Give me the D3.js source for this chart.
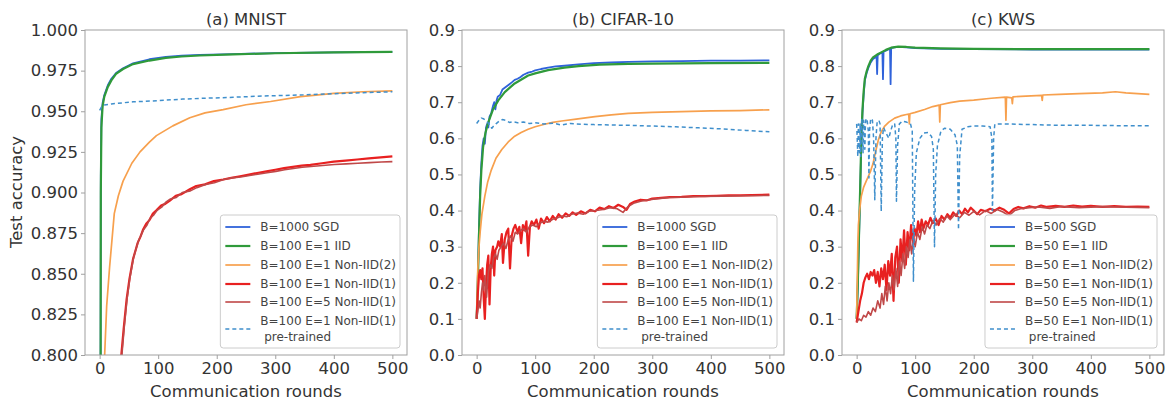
<!DOCTYPE html>
<html>
<head>
<meta charset="utf-8">
<script src="https://cdn.jsdelivr.net/npm/d3@7"></script>
<style>
  body { margin: 0; background: #fff; }
  text { font-family: "DejaVu Sans", sans-serif; }
</style>
</head>
<body>
<svg id="chart" width="1173" height="406"></svg>
<script>
// ---- data: [round, test accuracy] ----
const roundTicks = [0, 100, 200, 300, 400, 500]
const mnistTicks = [0.800, 0.825, 0.850, 0.875, 0.900, 0.925, 0.950, 0.975, 1.000]
const accTicks = [0.0, 0.1, 0.2, 0.3, 0.4, 0.5, 0.6, 0.7, 0.8, 0.9]

const titles = ["(a) MNIST", "(b) CIFAR-10", "(c) KWS"]
const mnistLabels = ["B=1000 SGD", "B=100 E=1 IID", "B=100 E=1 Non-IID(2)", "B=100 E=1 Non-IID(1)", "B=100 E=5 Non-IID(1)", "B=100 E=1 Non-IID(1)| pre-trained"]
const cifarLabels = mnistLabels
const kwsLabels = ["B=500 SGD", "B=50 E=1 IID", "B=50 E=1 Non-IID(2)", "B=50 E=1 Non-IID(1)", "B=50 E=5 Non-IID(1)", "B=50 E=1 Non-IID(1)| pre-trained"]

// (a) MNIST
const mnistSGD = [[0,0.10],[1,0.60],[2,0.91],[3,0.945],[5,0.955],[8,0.960],[14,0.966],[20,0.970],[28,0.9735],[40,0.9765],[57,0.9795],[85,0.982],[113,0.9835],[140,0.9842],[171,0.9847],[228,0.9852],[300,0.9858],[400,0.9862],[500,0.9866]]
const mnistIID = [[0,0.10],[1,0.55],[2,0.90],[3,0.940],[5,0.953],[8,0.959],[14,0.965],[20,0.969],[28,0.973],[40,0.976],[57,0.979],[85,0.9812],[113,0.9828],[140,0.9837],[171,0.9843],[228,0.985],[300,0.9857],[400,0.9862],[500,0.9865]]
const mnistNon2 = [[0,0.10],[5,0.60],[8,0.795],[12,0.83],[17,0.854],[25,0.887],[32,0.898],[40,0.907],[55,0.918],[69,0.925],[85,0.931],[97,0.935],[125,0.941],[154,0.946],[180,0.949],[211,0.951],[250,0.954],[292,0.956],[343,0.959],[400,0.961],[450,0.962],[500,0.9625]]
const mnistE1 = [[0,0.10],[20,0.45],[30,0.66],[37,0.80],[41,0.816],[46,0.834],[51,0.847],[57,0.859],[61,0.864],[65,0.869],[70,0.873],[74,0.877],[80,0.881],[85,0.883],[91,0.887],[97,0.889],[105,0.892],[112,0.893],[120,0.895],[130,0.898],[140,0.899],[154,0.902],[165,0.904],[180,0.905],[195,0.907],[211,0.908],[225,0.909],[240,0.910],[255,0.911],[269,0.912],[285,0.913],[300,0.914],[315,0.915],[330,0.9158],[345,0.9165],[360,0.917],[380,0.918],[400,0.919],[420,0.9196],[440,0.9203],[460,0.921],[480,0.9216],[500,0.9222]]
const mnistE5 = [[0,0.10],[20,0.44],[30,0.65],[38,0.80],[42,0.817],[47,0.835],[52,0.848],[58,0.860],[62,0.865],[66,0.870],[71,0.874],[75,0.877],[81,0.880],[86,0.884],[92,0.886],[98,0.889],[106,0.891],[113,0.894],[121,0.896],[131,0.897],[141,0.900],[155,0.901],[166,0.903],[181,0.905],[196,0.906],[212,0.908],[226,0.909],[241,0.9095],[256,0.9105],[270,0.9112],[286,0.9122],[301,0.913],[316,0.914],[331,0.9148],[346,0.9155],[361,0.916],[381,0.9166],[401,0.9172],[421,0.9176],[441,0.918],[461,0.9184],[481,0.9188],[500,0.919]]
const mnistPre = [[0,0.9505],[3,0.9525],[8,0.9538],[20,0.9545],[40,0.9552],[57,0.9558],[100,0.9565],[142,0.9575],[180,0.958],[228,0.9586],[280,0.9594],[343,0.960],[400,0.9608],[450,0.9614],[500,0.962]]

// (b) CIFAR-10
const cifarSGD = [[0,0.10],[2,0.21],[3,0.28],[4,0.35],[6,0.46],[8,0.53],[10,0.58],[12,0.60],[14,0.585],[16,0.63],[18,0.64],[20,0.63],[22,0.66],[25,0.67],[28,0.69],[30,0.70],[32,0.68],[34,0.705],[36,0.715],[40,0.72],[44,0.735],[48,0.74],[52,0.745],[56,0.75],[60,0.755],[65,0.762],[70,0.765],[75,0.77],[80,0.776],[88,0.782],[95,0.785],[100,0.788],[110,0.792],[122,0.796],[135,0.799],[150,0.801],[174,0.805],[200,0.808],[230,0.81],[259,0.812],[300,0.813],[350,0.814],[400,0.815],[450,0.815],[500,0.816]]
const cifarIID = [[0,0.10],[2,0.20],[3,0.26],[4,0.33],[6,0.44],[8,0.51],[11,0.575],[15,0.615],[20,0.645],[28,0.68],[37,0.705],[48,0.728],[65,0.752],[88,0.774],[100,0.78],[122,0.789],[150,0.796],[174,0.80],[210,0.804],[259,0.806],[300,0.807],[400,0.808],[500,0.809]]
const cifarNon2 = [[0,0.10],[2,0.24],[4,0.30],[6,0.34],[9,0.39],[14,0.44],[19,0.48],[25,0.512],[33,0.545],[43,0.569],[54,0.59],[65,0.606],[76,0.616],[88,0.625],[100,0.632],[116,0.639],[130,0.644],[145,0.648],[170,0.653],[202,0.66],[230,0.665],[259,0.669],[300,0.672],[350,0.674],[400,0.676],[450,0.677],[500,0.679]]
const cifarE1 = [[0,0.10],[2,0.17],[4,0.22],[6,0.235],[8,0.21],[10,0.24],[12,0.16],[14,0.10],[16,0.19],[18,0.25],[20,0.275],[22,0.14],[24,0.24],[26,0.28],[28,0.30],[30,0.22],[32,0.29],[35,0.30],[37,0.315],[40,0.30],[43,0.335],[45,0.255],[48,0.32],[51,0.34],[54,0.35],[57,0.24],[60,0.33],[63,0.35],[66,0.36],[70,0.34],[73,0.355],[76,0.31],[79,0.36],[82,0.345],[85,0.37],[88,0.275],[91,0.355],[94,0.37],[98,0.36],[102,0.375],[106,0.35],[110,0.378],[115,0.365],[120,0.382],[125,0.37],[130,0.385],[135,0.375],[140,0.39],[146,0.38],[152,0.392],[158,0.385],[164,0.395],[170,0.388],[178,0.398],[186,0.392],[194,0.402],[202,0.398],[210,0.408],[218,0.404],[226,0.412],[234,0.407],[242,0.416],[250,0.41],[256,0.402],[262,0.418],[270,0.425],[280,0.43],[290,0.428],[300,0.433],[315,0.435],[330,0.437],[350,0.438],[370,0.44],[390,0.44],[410,0.441],[430,0.442],[450,0.442],[470,0.443],[500,0.444]]
const cifarE5 = [[0,0.10],[2,0.12],[4,0.15],[6,0.13],[8,0.17],[10,0.20],[12,0.18],[14,0.22],[17,0.16],[20,0.23],[23,0.25],[26,0.24],[29,0.27],[32,0.28],[35,0.265],[38,0.29],[42,0.30],[46,0.31],[50,0.295],[54,0.32],[58,0.33],[62,0.315],[66,0.34],[70,0.335],[75,0.345],[80,0.35],[85,0.34],[90,0.355],[96,0.36],[102,0.355],[108,0.365],[115,0.37],[122,0.368],[130,0.376],[138,0.38],[146,0.385],[154,0.383],[162,0.39],[172,0.393],[182,0.39],[192,0.398],[204,0.40],[216,0.403],[228,0.408],[240,0.405],[250,0.395],[258,0.41],[268,0.42],[280,0.426],[295,0.43],[310,0.433],[330,0.436],[350,0.437],[380,0.439],[420,0.44],[460,0.441],[500,0.442]]
const cifarPre = [[0,0.641],[4,0.650],[8,0.656],[12,0.654],[16,0.648],[20,0.642],[23,0.633],[26,0.628],[29,0.634],[33,0.640],[38,0.647],[44,0.652],[50,0.650],[56,0.644],[62,0.646],[70,0.643],[80,0.645],[90,0.641],[100,0.643],[115,0.640],[130,0.642],[145,0.637],[160,0.641],[180,0.639],[200,0.638],[230,0.637],[260,0.636],[300,0.634],[340,0.632],[380,0.629],[420,0.626],[460,0.622],[500,0.618]]

// (c) KWS
const kwsSGD = [[0,0.10],[2,0.19],[4,0.32],[6,0.45],[8,0.58],[10,0.67],[12,0.72],[14,0.76],[17,0.78],[20,0.795],[24,0.81],[28,0.82],[32,0.824],[34,0.828],[35,0.778],[36,0.83],[40,0.835],[44,0.838],[45,0.764],[46,0.84],[50,0.843],[54,0.846],[57,0.848],[58,0.75],[59,0.85],[65,0.852],[71,0.853],[85,0.852],[100,0.85],[144,0.848],[200,0.847],[300,0.846],[400,0.846],[500,0.846]]
const kwsIID = [[0,0.10],[2,0.20],[4,0.33],[6,0.46],[8,0.60],[10,0.68],[12,0.73],[14,0.765],[17,0.785],[20,0.80],[24,0.815],[28,0.824],[35,0.832],[42,0.838],[50,0.845],[59,0.851],[71,0.854],[85,0.853],[100,0.851],[144,0.849],[200,0.848],[300,0.847],[400,0.847],[500,0.847]]
const kwsNon2 = [[0,0.10],[2,0.30],[3,0.36],[5,0.40],[8,0.44],[12,0.465],[16,0.48],[20,0.495],[24,0.51],[28,0.53],[32,0.56],[37,0.595],[42,0.618],[48,0.634],[55,0.645],[65,0.656],[75,0.662],[85,0.666],[89,0.667],[90,0.64],[91,0.668],[100,0.672],[116,0.68],[130,0.688],[141,0.692],[142,0.645],[143,0.693],[160,0.699],[176,0.703],[200,0.706],[230,0.711],[254,0.714],[255,0.65],[256,0.714],[265,0.712],[266,0.696],[267,0.715],[289,0.717],[316,0.719],[317,0.705],[318,0.72],[346,0.722],[380,0.724],[420,0.726],[442,0.729],[460,0.726],[500,0.722]]
const kwsE1 = [[0,0.09],[3,0.12],[6,0.15],[9,0.17],[12,0.20],[15,0.215],[18,0.225],[21,0.21],[24,0.23],[27,0.22],[30,0.235],[33,0.20],[36,0.23],[39,0.19],[42,0.24],[45,0.21],[48,0.25],[51,0.18],[54,0.26],[57,0.22],[60,0.28],[63,0.15],[66,0.27],[69,0.30],[72,0.20],[75,0.32],[78,0.26],[81,0.345],[84,0.25],[87,0.34],[90,0.29],[93,0.36],[96,0.31],[99,0.35],[102,0.33],[105,0.37],[108,0.34],[111,0.375],[114,0.35],[118,0.37],[122,0.36],[126,0.38],[130,0.365],[135,0.378],[140,0.36],[145,0.385],[150,0.375],[155,0.39],[160,0.38],[165,0.395],[170,0.385],[175,0.40],[180,0.39],[185,0.405],[190,0.395],[195,0.408],[200,0.40],[206,0.39],[212,0.402],[220,0.398],[228,0.405],[236,0.40],[244,0.408],[252,0.402],[260,0.392],[268,0.404],[276,0.41],[285,0.406],[295,0.412],[305,0.408],[315,0.414],[325,0.41],[340,0.413],[355,0.41],[370,0.414],[385,0.411],[400,0.413],[420,0.41],[440,0.412],[460,0.41],[480,0.411],[500,0.41]]
const kwsE5 = [[0,0.09],[4,0.10],[8,0.095],[12,0.11],[16,0.105],[20,0.12],[24,0.11],[28,0.13],[32,0.12],[36,0.15],[40,0.13],[43,0.17],[46,0.14],[49,0.19],[52,0.15],[55,0.20],[58,0.17],[61,0.22],[64,0.18],[67,0.24],[70,0.19],[73,0.26],[76,0.22],[79,0.28],[82,0.24],[85,0.30],[88,0.27],[91,0.32],[94,0.28],[97,0.33],[100,0.30],[104,0.34],[108,0.32],[112,0.355],[116,0.335],[120,0.36],[125,0.35],[130,0.372],[136,0.36],[142,0.378],[148,0.368],[154,0.385],[160,0.375],[168,0.39],[176,0.38],[184,0.395],[192,0.387],[200,0.398],[210,0.388],[220,0.40],[230,0.392],[240,0.403],[250,0.396],[260,0.386],[270,0.40],[280,0.405],[295,0.408],[310,0.41],[330,0.406],[350,0.411],[380,0.408],[420,0.411],[460,0.409],[500,0.408]]
const kwsPre = [[0,0.64],[1,0.60],[2,0.55],[3,0.64],[4,0.58],[5,0.56],[6,0.64],[7,0.55],[8,0.62],[9,0.655],[10,0.60],[11,0.56],[12,0.65],[13,0.62],[14,0.57],[15,0.64],[16,0.655],[18,0.65],[20,0.62],[21,0.49],[22,0.62],[24,0.655],[27,0.65],[29,0.60],[31,0.43],[33,0.60],[35,0.645],[38,0.65],[40,0.64],[42,0.398],[44,0.60],[46,0.63],[50,0.615],[55,0.60],[58,0.62],[62,0.64],[65,0.64],[67,0.60],[68,0.426],[70,0.58],[73,0.64],[78,0.648],[85,0.645],[92,0.64],[95,0.62],[97,0.204],[99,0.45],[102,0.56],[108,0.60],[115,0.615],[122,0.616],[128,0.605],[131,0.57],[133,0.30],[135,0.50],[138,0.58],[144,0.62],[150,0.628],[160,0.625],[168,0.61],[172,0.58],[174,0.347],[176,0.55],[180,0.625],[190,0.632],[200,0.634],[215,0.634],[228,0.632],[231,0.60],[232,0.40],[234,0.60],[236,0.639],[250,0.64],[300,0.638],[350,0.636],[400,0.636],[450,0.635],[500,0.635]]

// ---- styles ----
const seriesColors = ["#2f62da", "#2f9a3a", "#f7a04d", "#e82020", "#c04848", "#3f8fcc"]
const seriesWidths = [1.8, 2.2, 1.7, 2.2, 1.6, 1.5]

const svg = d3.select("#chart")
const dims = { width: 322, top: 30, bottom: 355 }

function drawPanel(cfg) {
  const x = d3.scaleLinear().domain([-25, 525]).range([cfg.left, cfg.left + dims.width])
  const y = d3.scaleLinear().domain(cfg.yDomain).range([dims.bottom, dims.top])

  const g = svg.append("g")
  const clipId = "clip" + cfg.idx
  g.append("clipPath").attr("id", clipId)
    .append("rect")
      .attr("x", cfg.left).attr("y", dims.top)
      .attr("width", dims.width).attr("height", dims.bottom - dims.top)

  const line = d3.line().x(d => x(d[0])).y(d => y(d[1]))

  const lines = g.append("g").attr("clip-path", `url(#${clipId})`)
  cfg.series.forEach((s, i) => {
    lines.append("path")
      .attr("d", line(s))
      .attr("fill", "none")
      .attr("stroke", seriesColors[i])
      .attr("stroke-width", seriesWidths[i])
      .attr("stroke-linejoin", "round")
      .attr("stroke-dasharray", i == 5 ? "4,3" : null)
  })

  // frame
  g.append("rect")
    .attr("x", cfg.left).attr("y", dims.top)
    .attr("width", dims.width).attr("height", dims.bottom - dims.top)
    .attr("fill", "none").attr("stroke", "#a0a0a0").attr("stroke-width", 1)

  const xAxis = g.append("g")
    .attr("transform", `translate(0,${dims.bottom})`)
    .call(d3.axisBottom(x).tickValues(roundTicks).tickSize(4).tickPadding(3))
  const yAxis = g.append("g")
    .attr("transform", `translate(${cfg.left},0)`)
    .call(d3.axisLeft(y).tickValues(cfg.yTicks).tickFormat(d3.format(cfg.yFmt)).tickSize(4).tickPadding(3))
  ;[xAxis, yAxis].forEach(a => {
    a.select(".domain").remove()
    a.selectAll(".tick line").attr("stroke", "#a0a0a0")
    a.selectAll("text").style("font-size", "16.5px").attr("fill", "#333")
  })

  g.append("text")
    .attr("x", cfg.left + dims.width / 2).attr("y", 25)
    .attr("text-anchor", "middle")
    .style("font-size", "16.5px").attr("fill", "#333")
    .text(cfg.title)

  g.append("text")
    .attr("x", cfg.left + dims.width / 2).attr("y", 397)
    .attr("text-anchor", "middle")
    .style("font-size", "16.5px").attr("fill", "#333")
    .text("Communication rounds")

  // legend
  const leg = g.append("g")
  const box = leg.append("rect")
  const rowY = [12, 31, 50, 69, 87, 114]
  let maxW = 0
  cfg.labels.forEach((lab, i) => {
    const parts = lab.split("|")
    const hy = rowY[i]
    leg.append("line")
      .attr("x1", 5).attr("x2", 30).attr("y1", hy).attr("y2", hy)
      .attr("stroke", seriesColors[i])
      .attr("stroke-width", seriesWidths[i])
      .attr("stroke-dasharray", i == 5 ? "4,3" : null)
    parts.forEach((p, k) => {
      const ty = parts.length > 1 ? hy - 8 + k * 16 : hy
      const t = leg.append("text")
        .attr("x", 40).attr("y", ty).attr("dy", "0.35em")
        .style("font-size", "12px").attr("fill", "#444")
        .attr("xml:space", "preserve")
        .text(p)
      maxW = Math.max(maxW, t.node().getComputedTextLength())
    })
  })
  const boxW = 44 + maxW
  box.attr("x", 0).attr("y", 0).attr("width", boxW).attr("height", 133)
    .attr("rx", 3)
    .attr("fill", "#fff").attr("fill-opacity", 0.8)
    .attr("stroke", "#cccccc")
  leg.attr("transform", `translate(${cfg.left + dims.width - 7 - boxW},215)`)
}

drawPanel({ idx: 0, left: 85, title: titles[0], yDomain: [0.8, 1.0], yTicks: mnistTicks, yFmt: ".3f",
  series: [mnistSGD, mnistIID, mnistNon2, mnistE1, mnistE5, mnistPre], labels: mnistLabels })
drawPanel({ idx: 1, left: 462, title: titles[1], yDomain: [0, 0.9], yTicks: accTicks, yFmt: ".1f",
  series: [cifarSGD, cifarIID, cifarNon2, cifarE1, cifarE5, cifarPre], labels: cifarLabels })
drawPanel({ idx: 2, left: 842, title: titles[2], yDomain: [0, 0.9], yTicks: accTicks, yFmt: ".1f",
  series: [kwsSGD, kwsIID, kwsNon2, kwsE1, kwsE5, kwsPre], labels: kwsLabels })

svg.append("text")
  .attr("transform", "translate(22,192) rotate(-90)")
  .attr("text-anchor", "middle")
  .style("font-size", "16.5px").attr("fill", "#333")
  .text("Test accuracy")
</script>
</body>
</html>
